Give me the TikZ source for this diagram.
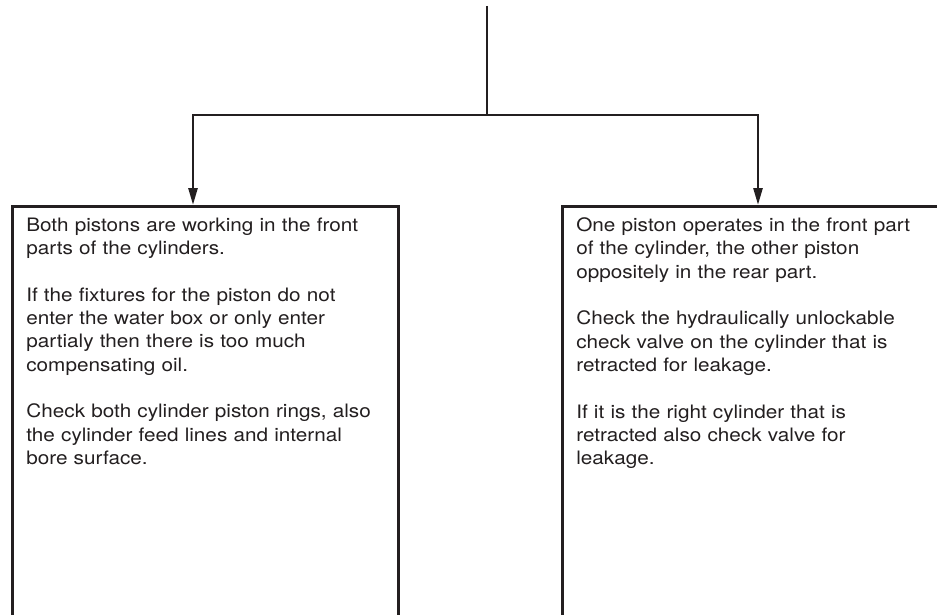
\documentclass[tikz,border=0pt]{standalone}
\usepackage{fontspec}
\setmainfont{TeX Gyre Heros}[FakeStretch=1.12]
\definecolor{InkGray}{HTML}{231F20}
\usetikzlibrary{arrows.meta,positioning,calc}
\tikzset{
  notebox/.style={draw=InkGray, line width=2.6pt, fill=white, align=left, anchor=north west, text width=358pt, inner xsep=14pt, inner ysep=11.5pt, text depth=430pt, text=InkGray, font=\fontsize{18.5}{23.3}\selectfont},
  feedline/.style={draw=InkGray, line width=2.6pt},
  arrow/.style={-{Triangle[length=17pt,width=9pt]}, draw=InkGray, line width=2.6pt}
}

\begin{document}
\begin{tikzpicture}[x=1pt,y=-1pt]
  \useasboundingbox (0,0) rectangle (937,615);
  \clip (0,0) rectangle (937,615);

  \coordinate (top) at (487,6);
  \coordinate (split) at (487,115);
  \coordinate (ljoin) at (193,115);
  \coordinate (rjoin) at (758,115);

  \node[notebox] (leftbox) at (11,205)
    {Both pistons are working in the front\\
     parts of the cylinders.\\[23.3pt]
     If the fixtures for the piston do not\\
     enter the water box or only enter\\
     partialy then there is too much\\
     compensating oil.\\[23.3pt]
     Check both cylinder piston rings, also\\
     the cylinder feed lines and internal\\
     bore surface.};

  \node[notebox] (rightbox) at (561,205)
    {One piston operates in the front part\\
     of the cylinder, the other piston\\
     oppositely in the rear part.\\[23.3pt]
     Check the hydraulically unlockable\\
     check valve on the cylinder that is\\
     retracted for leakage.\\[23.3pt]
     If it is the right cylinder that is\\
     retracted also check valve for\\
     leakage.};

  \draw[feedline] (top) -- (split);
  \draw[arrow] (split) -| (ljoin |- leftbox.north);
  \draw[arrow] (split) -| (rjoin |- rightbox.north);
\end{tikzpicture}
\end{document}
